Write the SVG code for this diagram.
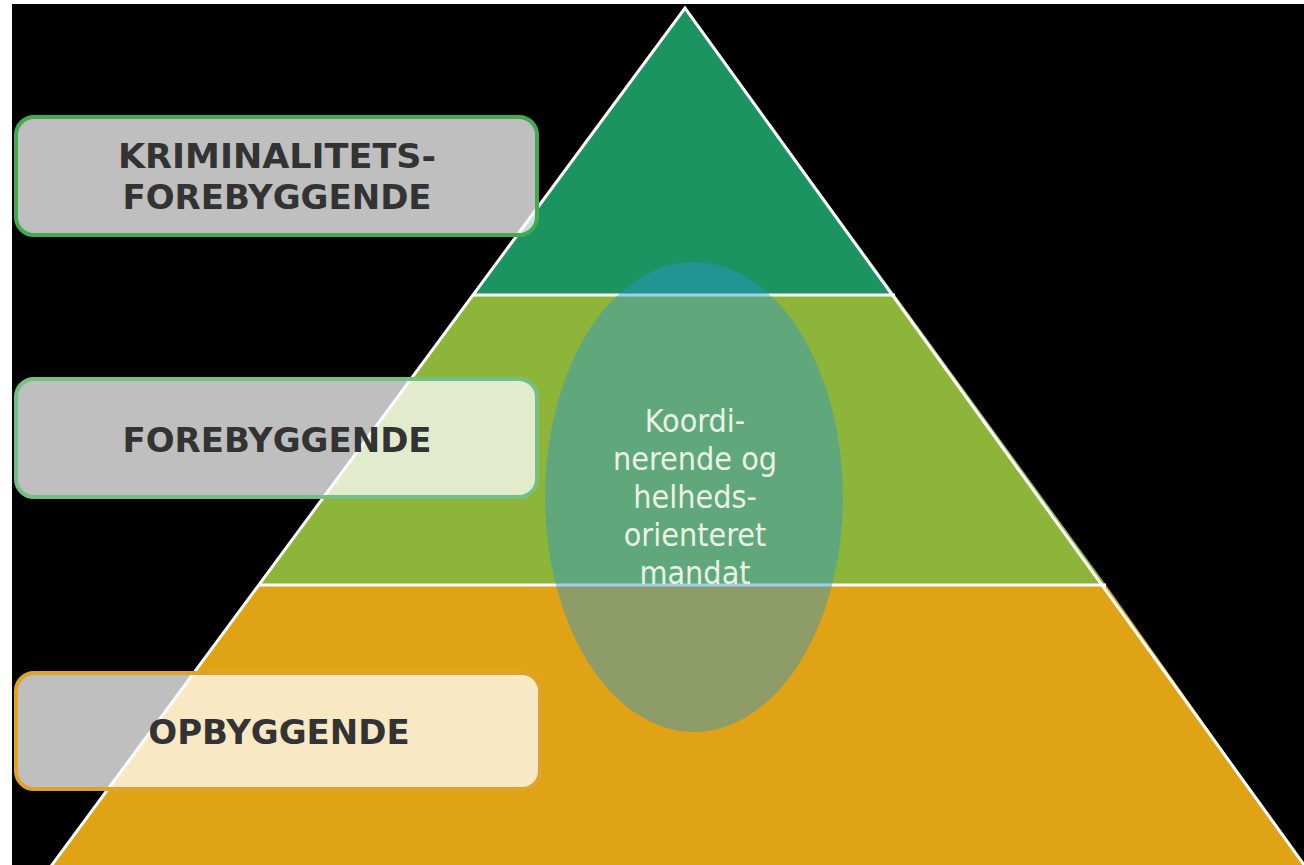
<svg xmlns="http://www.w3.org/2000/svg" width="1304" height="865" viewBox="0 0 1304 865">
<style>
.band{stroke:none}
.edge{fill:none;stroke:#ffffff;stroke-width:3;stroke-linejoin:miter}
.box{fill:#ffffff;fill-opacity:0.75;stroke-width:4}
.lbl{font-family:"DejaVu Sans","Verdana",sans-serif;font-weight:bold;font-size:34px;fill:#333333;text-anchor:middle}
.mid{font-family:"DejaVu Sans Condensed","DejaVu Sans",sans-serif;font-size:32px;fill:#eaf2e4;text-anchor:middle}
</style>
<rect x="0" y="0" width="1304" height="865" fill="#ffffff"/>
<rect x="12" y="4" width="1292" height="861" fill="#000000"/>
<g id="pyramid">
<polygon class="band" fill="#1b9461" points="685,8 473,295 895,295"/>
<polygon class="band" fill="#8cb53a" points="473,295 895,295 1106,585 259,585"/>
<polygon class="band" fill="#e1a316" points="259,585 1106,585 1310,873 46,873"/>
<polyline class="edge" points="46,873 685,8 1310,873"/>
<line class="edge" x1="473" y1="295" x2="895" y2="295"/>
<line class="edge" x1="259" y1="585" x2="1106" y2="585"/>
</g>
<g id="box-kriminalitet">
<rect class="box" x="16" y="117" width="521" height="118" rx="18" stroke="#45aa4f"/>
<text class="lbl" x="277" y="168" textLength="318" lengthAdjust="spacingAndGlyphs">KRIMINALITETS-</text>
<text class="lbl" x="277" y="209">FOREBYGGENDE</text>
</g>
<g id="box-forebyggende">
<rect class="box" x="16" y="379" width="521" height="118" rx="18" stroke="#74bf84"/>
<text class="lbl" x="277" y="452">FOREBYGGENDE</text>
</g>
<g id="box-opbyggende">
<rect class="box" x="16" y="673" width="524" height="116" rx="18" stroke="#dfa22a"/>
<text class="lbl" x="279" y="744">OPBYGGENDE</text>
</g>
<g id="mandat">
<ellipse cx="694" cy="497" rx="149" ry="235" fill="#2a97cc" fill-opacity="0.45"/>
<text class="mid" x="695" y="432">Koordi-</text>
<text class="mid" x="695" y="470">nerende og</text>
<text class="mid" x="695" y="508">helheds-</text>
<text class="mid" x="695" y="546">orienteret</text>
<text class="mid" x="695" y="584">mandat</text>
</g>
<g id="connectors"/>
</svg>
